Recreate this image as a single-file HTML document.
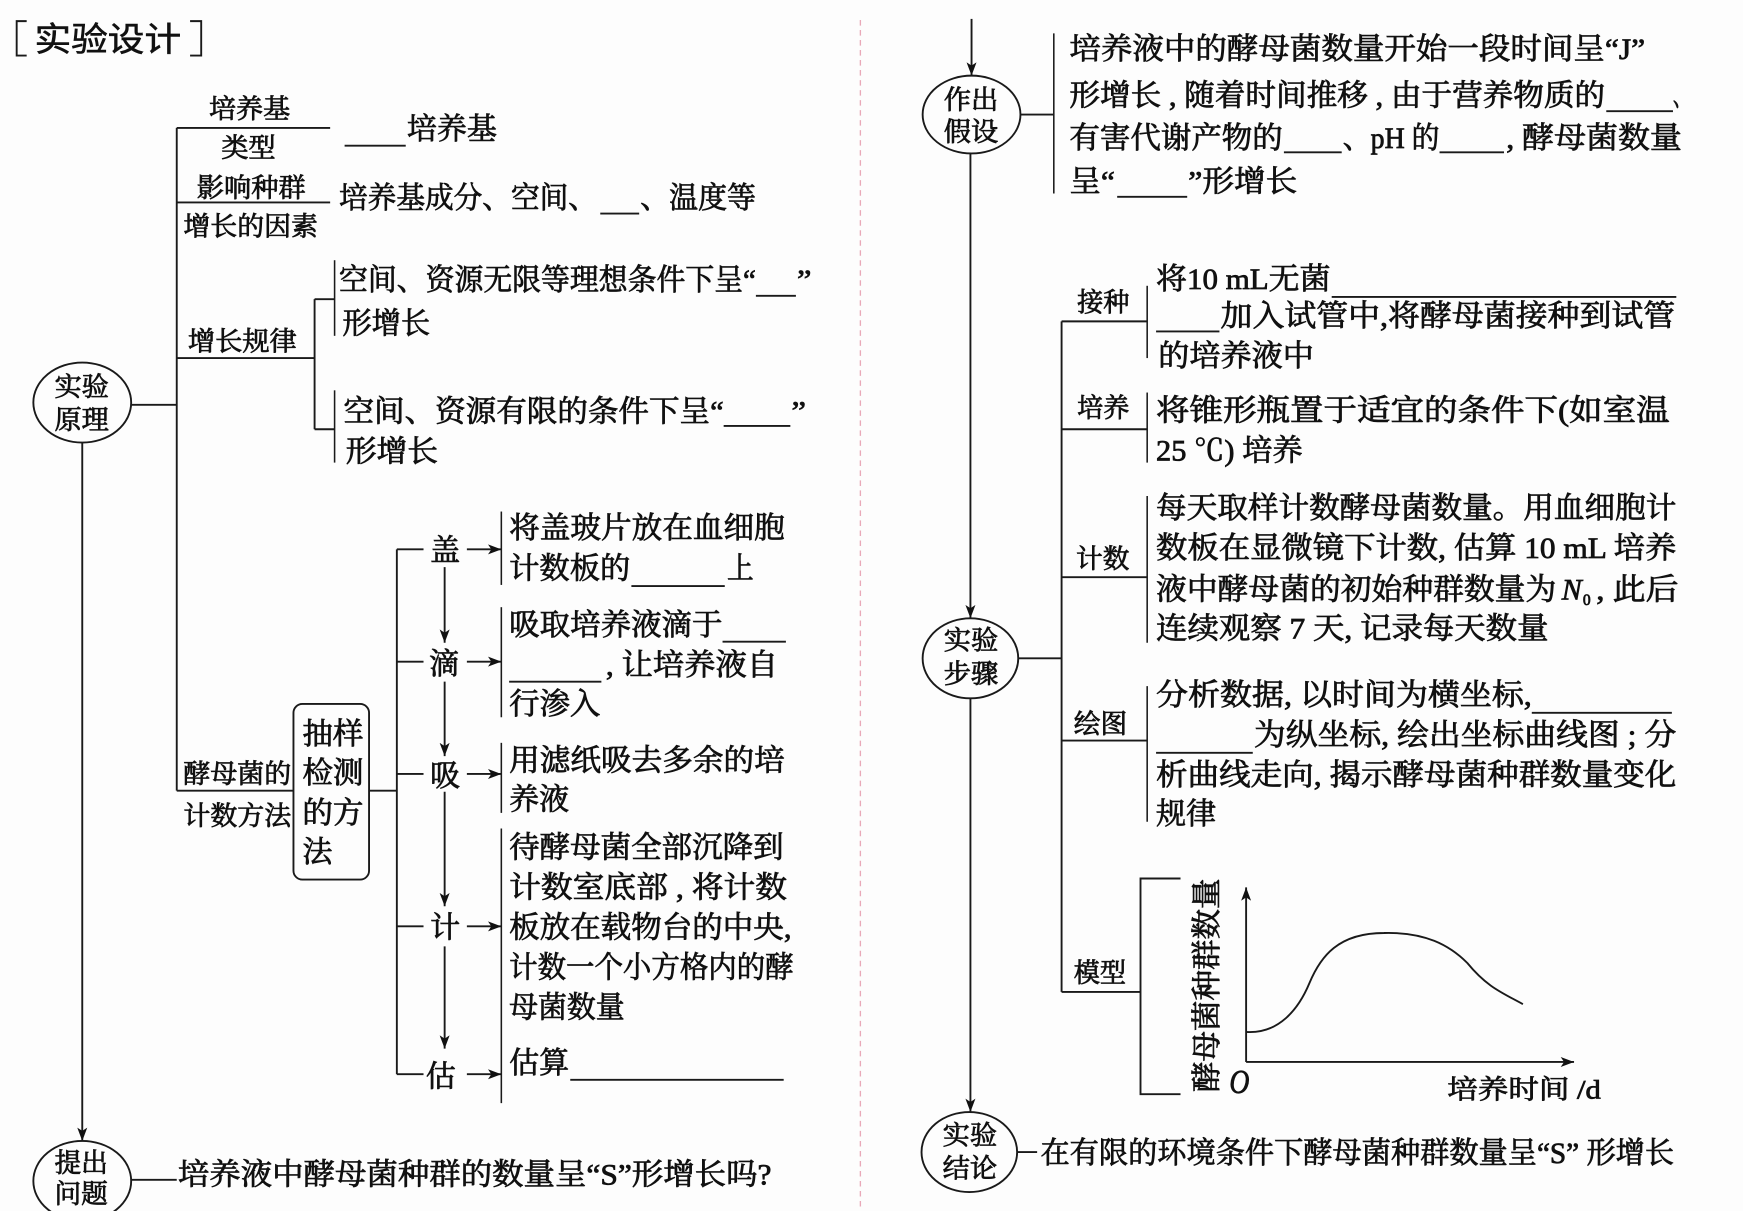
<!DOCTYPE html>
<html lang="zh"><head><meta charset="utf-8"><title>实验设计</title>
<style>
html,body{margin:0;padding:0;background:#fdfdfd}
svg{display:block}
text{font-family:"Liberation Serif","Noto Serif CJK SC",serif;font-size:27px;fill:#111;stroke:#111;stroke-width:.7px}
.l{font-size:24px}
.h{font-family:"Liberation Sans","Noto Sans CJK SC",sans-serif;font-size:30px;stroke-width:.5px}
.i{font-style:italic}
line,path.s,polyline,rect,ellipse{fill:none;stroke:#1a1a1a;stroke-width:1.7}
.t{stroke-width:1.4}
</style></head><body>
<svg xmlns="http://www.w3.org/2000/svg" width="1743" height="1211" viewBox="0 0 1568 1089" preserveAspectRatio="none">
<defs><marker id="a" markerUnits="userSpaceOnUse" markerWidth="14" markerHeight="12" refX="12" refY="6" orient="auto"><path d="M0 1.5L12 6L0 10.5L3 6Z" fill="#111"/></marker></defs>
<rect x="0" y="0" width="1568" height="1089" style="fill:#fdfdfd;stroke:none"/>
<line x1="774" y1="18" x2="774" y2="1089" style="stroke:#e9a9b8;stroke-width:1.2;stroke-dasharray:5 4"/>

<!-- title -->
<polyline points="24,19 15,19 15,50 24,50"/><polyline points="171,19 181,19 181,50 171,50"/>
<text class="h" x="31" y="46" textLength="132" lengthAdjust="spacingAndGlyphs">实验设计</text>

<!-- left tree lines -->
<ellipse cx="74" cy="362" rx="44" ry="36"/>
<line x1="118" y1="364" x2="159" y2="364"/>
<line x1="74" y1="398" x2="74" y2="1026" marker-end="url(#a)"/>
<line x1="159" y1="115" x2="159" y2="711"/>
<line x1="159" y1="115" x2="297" y2="115"/>
<line x1="159" y1="182" x2="297" y2="182"/>
<line x1="159" y1="322" x2="283" y2="322"/>
<line x1="283" y1="269" x2="283" y2="386"/>
<line x1="283" y1="269" x2="301" y2="269"/><line x1="283" y1="386" x2="301" y2="386"/>
<line class="t" x1="301" y1="234" x2="301" y2="302"/><line class="t" x1="301" y1="351" x2="301" y2="416"/>
<line x1="159" y1="711" x2="264" y2="711"/>
<rect x="264" y="633" width="68" height="158" rx="8"/>
<line x1="332" y1="711" x2="357" y2="711"/>
<line x1="357" y1="494" x2="357" y2="966"/>
<line x1="357" y1="494" x2="381" y2="494"/><line x1="357" y1="595" x2="381" y2="595"/><line x1="357" y1="696" x2="381" y2="696"/><line x1="357" y1="833" x2="381" y2="833"/><line x1="357" y1="966" x2="381" y2="966"/>
<line x1="420" y1="494" x2="451" y2="494" marker-end="url(#a)"/><line x1="420" y1="595" x2="451" y2="595" marker-end="url(#a)"/><line x1="420" y1="696" x2="451" y2="696" marker-end="url(#a)"/><line x1="420" y1="833" x2="451" y2="833" marker-end="url(#a)"/><line x1="420" y1="966" x2="451" y2="966" marker-end="url(#a)"/>
<line x1="400" y1="510" x2="400" y2="578" marker-end="url(#a)"/><line x1="400" y1="613" x2="400" y2="680" marker-end="url(#a)"/><line x1="400" y1="712" x2="400" y2="815" marker-end="url(#a)"/><line x1="400" y1="851" x2="400" y2="943" marker-end="url(#a)"/>
<line class="t" x1="451" y1="460" x2="451" y2="526"/><line class="t" x1="451" y1="546" x2="451" y2="645"/><line class="t" x1="451" y1="668" x2="451" y2="731"/><line class="t" x1="451" y1="745" x2="451" y2="992"/>
<ellipse cx="74" cy="1062" rx="44" ry="36"/>
<line x1="118" y1="1061" x2="159" y2="1061"/>

<!-- left text -->
<text x="49" y="356" class="l" textLength="49" lengthAdjust="spacingAndGlyphs">实验</text>
<text x="49" y="386" class="l" textLength="49" lengthAdjust="spacingAndGlyphs">原理</text>
<text x="188" y="106" class="l" textLength="73" lengthAdjust="spacingAndGlyphs">培养基</text>
<text x="199" y="141" class="l" textLength="49" lengthAdjust="spacingAndGlyphs">类型</text>
<text x="177" y="177" class="l" textLength="98" lengthAdjust="spacingAndGlyphs">影响种群</text>
<text x="165" y="212" class="l" textLength="121" lengthAdjust="spacingAndGlyphs">增长的因素</text>
<text x="169" y="315" class="l" textLength="98" lengthAdjust="spacingAndGlyphs">增长规律</text>
<text x="165" y="704" class="l" textLength="97" lengthAdjust="spacingAndGlyphs">酵母菌的</text>
<text x="165" y="742" class="l" textLength="97" lengthAdjust="spacingAndGlyphs">计数方法</text>
<line x1="310" y1="131" x2="365" y2="131"/>
<text x="366" y="125" textLength="81" lengthAdjust="spacingAndGlyphs">培养基</text>
<text x="305" y="187" textLength="232" lengthAdjust="spacingAndGlyphs">培养基成分、空间、</text>
<line x1="540" y1="192" x2="575" y2="192"/>
<text x="576" y="187" textLength="104" lengthAdjust="spacingAndGlyphs">、温度等</text>
<text x="305" y="261" textLength="375" lengthAdjust="spacingAndGlyphs">空间、资源无限等理想条件下呈“</text>
<line x1="680" y1="266" x2="716" y2="266"/>
<text x="717" y="261" textLength="13" lengthAdjust="spacingAndGlyphs">”</text>
<text x="308" y="300" textLength="79" lengthAdjust="spacingAndGlyphs">形增长</text>
<text x="309" y="379" textLength="342" lengthAdjust="spacingAndGlyphs">空间、资源有限的条件下呈“</text>
<line x1="651" y1="383" x2="711" y2="383"/>
<text x="712" y="379" textLength="13" lengthAdjust="spacingAndGlyphs">”</text>
<text x="311" y="415" textLength="83" lengthAdjust="spacingAndGlyphs">形增长</text>
<text x="272" y="669" textLength="55" lengthAdjust="spacingAndGlyphs">抽样</text>
<text x="272" y="704" textLength="55" lengthAdjust="spacingAndGlyphs">检测</text>
<text x="272" y="740" textLength="55" lengthAdjust="spacingAndGlyphs">的方</text>
<text x="272" y="775" textLength="27" lengthAdjust="spacingAndGlyphs">法</text>
<text x="387" y="504">盖</text><text x="386" y="606">滴</text><text x="387" y="707">吸</text><text x="387" y="843">计</text><text x="383" y="977">估</text>
<text x="458" y="484" textLength="248" lengthAdjust="spacingAndGlyphs">将盖玻片放在血细胞</text>
<text x="458" y="520" textLength="109" lengthAdjust="spacingAndGlyphs">计数板的</text>
<line x1="568" y1="527" x2="652" y2="527"/>
<text x="654" y="520" textLength="24" lengthAdjust="spacingAndGlyphs">上</text>
<text x="458" y="571" textLength="192" lengthAdjust="spacingAndGlyphs">吸取培养液滴于</text>
<line x1="650" y1="577" x2="707" y2="577"/>
<line x1="458" y1="613" x2="541" y2="613"/>
<text x="545" y="607" textLength="155" lengthAdjust="spacingAndGlyphs">, 让培养液自</text>
<text x="458" y="642" textLength="82" lengthAdjust="spacingAndGlyphs">行渗入</text>
<text x="458" y="693" textLength="248" lengthAdjust="spacingAndGlyphs">用滤纸吸去多余的培</text>
<text x="458" y="728" textLength="54" lengthAdjust="spacingAndGlyphs">养液</text>
<text x="458" y="771" textLength="247" lengthAdjust="spacingAndGlyphs">待酵母菌全部沉降到</text>
<text x="458" y="807" textLength="250" lengthAdjust="spacingAndGlyphs">计数室底部 , 将计数</text>
<text x="458" y="843" textLength="254" lengthAdjust="spacingAndGlyphs">板放在载物台的中央,</text>
<text x="458" y="879" textLength="256" lengthAdjust="spacingAndGlyphs">计数一个小方格内的酵</text>
<text x="458" y="915" textLength="104" lengthAdjust="spacingAndGlyphs">母菌数量</text>
<text x="458" y="965" textLength="54" lengthAdjust="spacingAndGlyphs">估算</text>
<line x1="513" y1="971" x2="705" y2="971"/>
<text x="49" y="1054" class="l" textLength="48" lengthAdjust="spacingAndGlyphs">提出</text>
<text x="49" y="1082" class="l" textLength="48" lengthAdjust="spacingAndGlyphs">问题</text>
<text x="160" y="1065" textLength="534" lengthAdjust="spacingAndGlyphs">培养液中酵母菌种群的数量呈“S”形增长吗?</text>

<!-- right lines -->
<line x1="874" y1="17" x2="874" y2="68" marker-end="url(#a)"/>
<ellipse cx="874" cy="103" rx="44" ry="35"/>
<line x1="918" y1="103" x2="948" y2="103"/>
<line class="t" x1="948" y1="30" x2="948" y2="174"/>
<line x1="873" y1="138" x2="873" y2="556" marker-end="url(#a)"/>
<ellipse cx="873" cy="592" rx="43" ry="36"/>
<line x1="916" y1="592" x2="955" y2="592"/>
<line x1="955" y1="289" x2="955" y2="892"/>
<line x1="955" y1="289" x2="1032" y2="289"/><line x1="955" y1="386" x2="1032" y2="386"/><line x1="955" y1="519" x2="1032" y2="519"/><line x1="955" y1="666" x2="1032" y2="666"/><line x1="955" y1="892" x2="1026" y2="892"/>
<line class="t" x1="1032" y1="257" x2="1032" y2="322"/><line class="t" x1="1032" y1="353" x2="1032" y2="416"/><line class="t" x1="1032" y1="446" x2="1032" y2="578"/><line class="t" x1="1032" y1="617" x2="1032" y2="739"/>
<polyline points="1062,790 1026,790 1026,984 1062,984"/>
<line x1="1121" y1="955" x2="1121" y2="798" marker-end="url(#a)"/>
<line x1="1121" y1="955" x2="1416" y2="955" marker-end="url(#a)"/>
<path class="s" d="M1121 928C1150 930 1168 908 1178 884C1188 860 1204 839 1245 839C1282 838 1304 850 1320 866C1338 888 1352 893 1370 903"/>
<line x1="873" y1="628" x2="873" y2="1000" marker-end="url(#a)"/>
<ellipse cx="872" cy="1036" rx="43" ry="36"/>
<line x1="915" y1="1036" x2="933" y2="1036"/>

<!-- right text -->
<text x="849" y="98" class="l" textLength="49" lengthAdjust="spacingAndGlyphs">作出</text>
<text x="849" y="127" class="l" textLength="49" lengthAdjust="spacingAndGlyphs">假设</text>
<text x="849" y="584" class="l" textLength="49" lengthAdjust="spacingAndGlyphs">实验</text>
<text x="849" y="614" class="l" textLength="49" lengthAdjust="spacingAndGlyphs">步骤</text>
<text x="848" y="1029" class="l" textLength="49" lengthAdjust="spacingAndGlyphs">实验</text>
<text x="848" y="1059" class="l" textLength="49" lengthAdjust="spacingAndGlyphs">结论</text>
<text x="962" y="53" textLength="518" lengthAdjust="spacingAndGlyphs">培养液中的酵母菌数量开始一段时间呈“J”</text>
<text x="962" y="95" textLength="482" lengthAdjust="spacingAndGlyphs">形增长 , 随着时间推移 , 由于营养物质的</text>
<line x1="1445" y1="100" x2="1505" y2="100"/>
<text x="1505" y="95" textLength="16" lengthAdjust="spacingAndGlyphs">、</text>
<text x="962" y="133" textLength="192" lengthAdjust="spacingAndGlyphs">有害代谢产物的</text>
<line x1="1155" y1="137" x2="1207" y2="137"/>
<text x="1208" y="133" textLength="87" lengthAdjust="spacingAndGlyphs">、pH 的</text>
<line x1="1295" y1="137" x2="1353" y2="137"/>
<text x="1355" y="133" textLength="158" lengthAdjust="spacingAndGlyphs">, 酵母菌数量</text>
<text x="962" y="172" textLength="41" lengthAdjust="spacingAndGlyphs">呈“</text>
<line x1="1005" y1="177" x2="1068" y2="177"/>
<text x="1069" y="172" textLength="98" lengthAdjust="spacingAndGlyphs">”形增长</text>
<text x="969" y="280" class="l" textLength="47" lengthAdjust="spacingAndGlyphs">接种</text>
<text x="969" y="375" class="l" textLength="47" lengthAdjust="spacingAndGlyphs">培养</text>
<text x="968" y="511" class="l" textLength="48" lengthAdjust="spacingAndGlyphs">计数</text>
<text x="966" y="659" class="l" textLength="48" lengthAdjust="spacingAndGlyphs">绘图</text>
<text x="966" y="883" class="l" textLength="47" lengthAdjust="spacingAndGlyphs">模型</text>
<text x="1040" y="260" textLength="157" lengthAdjust="spacingAndGlyphs">将10 mL无菌</text>
<line x1="1198" y1="267" x2="1508" y2="267"/>
<line x1="1040" y1="298" x2="1097" y2="298"/>
<text x="1098" y="293" textLength="409" lengthAdjust="spacingAndGlyphs">加入试管中,将酵母菌接种到试管</text>
<text x="1042" y="329" textLength="140" lengthAdjust="spacingAndGlyphs">的培养液中</text>
<text x="1040" y="378" textLength="462" lengthAdjust="spacingAndGlyphs">将锥形瓶置于适宜的条件下(如室温</text>
<text x="1040" y="414" textLength="132" lengthAdjust="spacingAndGlyphs">25 ℃) 培养</text>
<text x="1040" y="466" textLength="468" lengthAdjust="spacingAndGlyphs">每天取样计数酵母菌数量。用血细胞计</text>
<text x="1040" y="502" textLength="468" lengthAdjust="spacingAndGlyphs">数板在显微镜下计数, 估算 10 mL 培养</text>
<text x="1040" y="539" textLength="360" lengthAdjust="spacingAndGlyphs">液中酵母菌的初始种群数量为</text>
<text class="i" x="1405" y="539" textLength="18" lengthAdjust="spacingAndGlyphs">N</text>
<text x="1424" y="544" style="font-size:14px">0</text>
<text x="1436" y="539" textLength="74" lengthAdjust="spacingAndGlyphs">, 此后</text>
<text x="1040" y="574" textLength="353" lengthAdjust="spacingAndGlyphs">连续观察 7 天, 记录每天数量</text>
<text x="1040" y="634" textLength="338" lengthAdjust="spacingAndGlyphs">分析数据, 以时间为横坐标,</text>
<line x1="1378" y1="641" x2="1504" y2="641"/>
<line x1="1040" y1="677" x2="1127" y2="677"/>
<text x="1128" y="670" textLength="380" lengthAdjust="spacingAndGlyphs">为纵坐标, 绘出坐标曲线图 ; 分</text>
<text x="1040" y="706" textLength="468" lengthAdjust="spacingAndGlyphs">析曲线走向, 揭示酵母菌种群数量变化</text>
<text x="1040" y="741" textLength="54" lengthAdjust="spacingAndGlyphs">规律</text>
<text transform="translate(1095 982) rotate(-90)" x="0" y="0" textLength="192" lengthAdjust="spacingAndGlyphs">酵母菌种群数量</text>
<text class="i" x="1106" y="983" textLength="18" lengthAdjust="spacingAndGlyphs" style="font-size:30px">O</text>
<text x="1302" y="988" class="l" textLength="138" lengthAdjust="spacingAndGlyphs">培养时间 /d</text>
<text x="936" y="1046" textLength="570" lengthAdjust="spacingAndGlyphs">在有限的环境条件下酵母菌种群数量呈“S” 形增长</text>
</svg>
</body></html>
